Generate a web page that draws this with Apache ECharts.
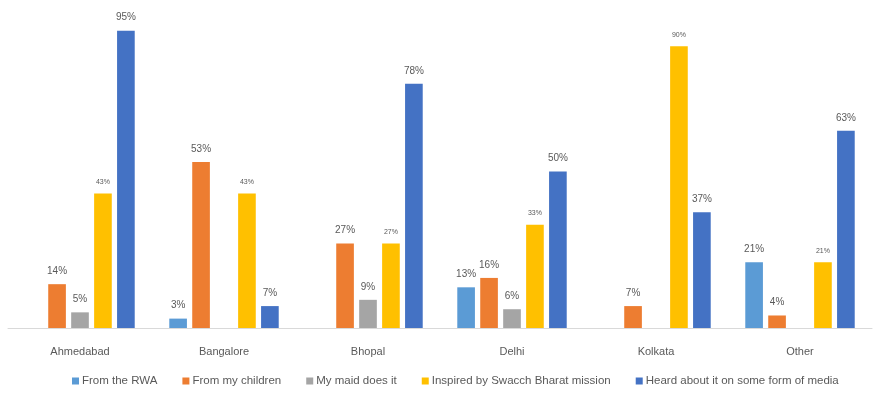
<!DOCTYPE html>
<html>
<head>
<meta charset="utf-8">
<script src="https://cdn.jsdelivr.net/npm/echarts@6/dist/echarts.min.js"></script>
<style>
  html, body { margin: 0; padding: 0; background: #ffffff; }
  #chart { width: 878px; height: 393px; }
</style>
</head>
<body>
<div id="chart"></div>
<script>
// Cities surveyed
const cities = ['Ahmedabad', 'Bangalore', 'Bhopal', 'Delhi', 'Kolkata', 'Other'];

// Share of respondents (%) per source of motivation; null = no response
const fromRWA      = [null, 3, null, 13, null, 21];
const fromChildren = [14, 53, 27, 16, 7, 4];
const maidDoesIt   = [5, null, 9, 6, null, null];
const swachhBharat = [43, 43, 27, 33, 90, 21];
const mediaHeard   = [95, 7, 78, 50, 37, 63];

const seriesNames = [
  'From the RWA',
  'From my children',
  'My maid does it',
  'Inspired by Swacch Bharat mission',
  'Heard about it on some form of media'
];
const seriesData = [fromRWA, fromChildren, maidDoesIt, swachhBharat, mediaHeard];
const colors = ['#5B9BD5', '#ED7D31', '#A5A5A5', '#FFC000', '#4472C4'];
const labelSizes = [10, 10, 10, 7, 10];

const chart = echarts.init(document.getElementById('chart'));
chart.setOption({
  animation: false,
  color: colors,
  textStyle: { fontFamily: 'Liberation Sans Narrow, Liberation Sans, sans-serif' },
  grid: { left: 8, right: 6, top: 15, bottom: 65 },
  legend: {
    top: 375,
    left: 72,
    padding: 0,
    itemWidth: 7,
    itemHeight: 7,
    itemGap: 25,
    icon: 'rect',
    textStyle: { color: '#595959', fontSize: 11.5, fontFamily: 'Liberation Sans, sans-serif', padding: [0, 0, 0, -2] },
    data: seriesNames
  },
  xAxis: {
    type: 'category',
    data: cities,
    axisLine: { show: true, lineStyle: { color: '#D9D9D9', width: 1 } },
    axisTick: { show: false },
    axisLabel: { color: '#595959', fontSize: 11, margin: 18, fontFamily: 'Liberation Sans, sans-serif' }
  },
  yAxis: {
    type: 'value',
    min: 0,
    max: 100,
    show: false,
    splitLine: { show: false }
  },
  series: seriesData.map((d, i) => ({
    name: seriesNames[i],
    type: 'bar',
    data: d,
    barGap: '30%',
    barCategoryGap: '24%',
    label: {
      show: true,
      position: 'top',
      distance: 8,
      formatter: p => p.value + '%',
      color: '#595959',
      fontSize: labelSizes[i],
      fontFamily: 'Liberation Sans Narrow, Liberation Sans, sans-serif'
    }
  }))
});
</script>
</body>
</html>
